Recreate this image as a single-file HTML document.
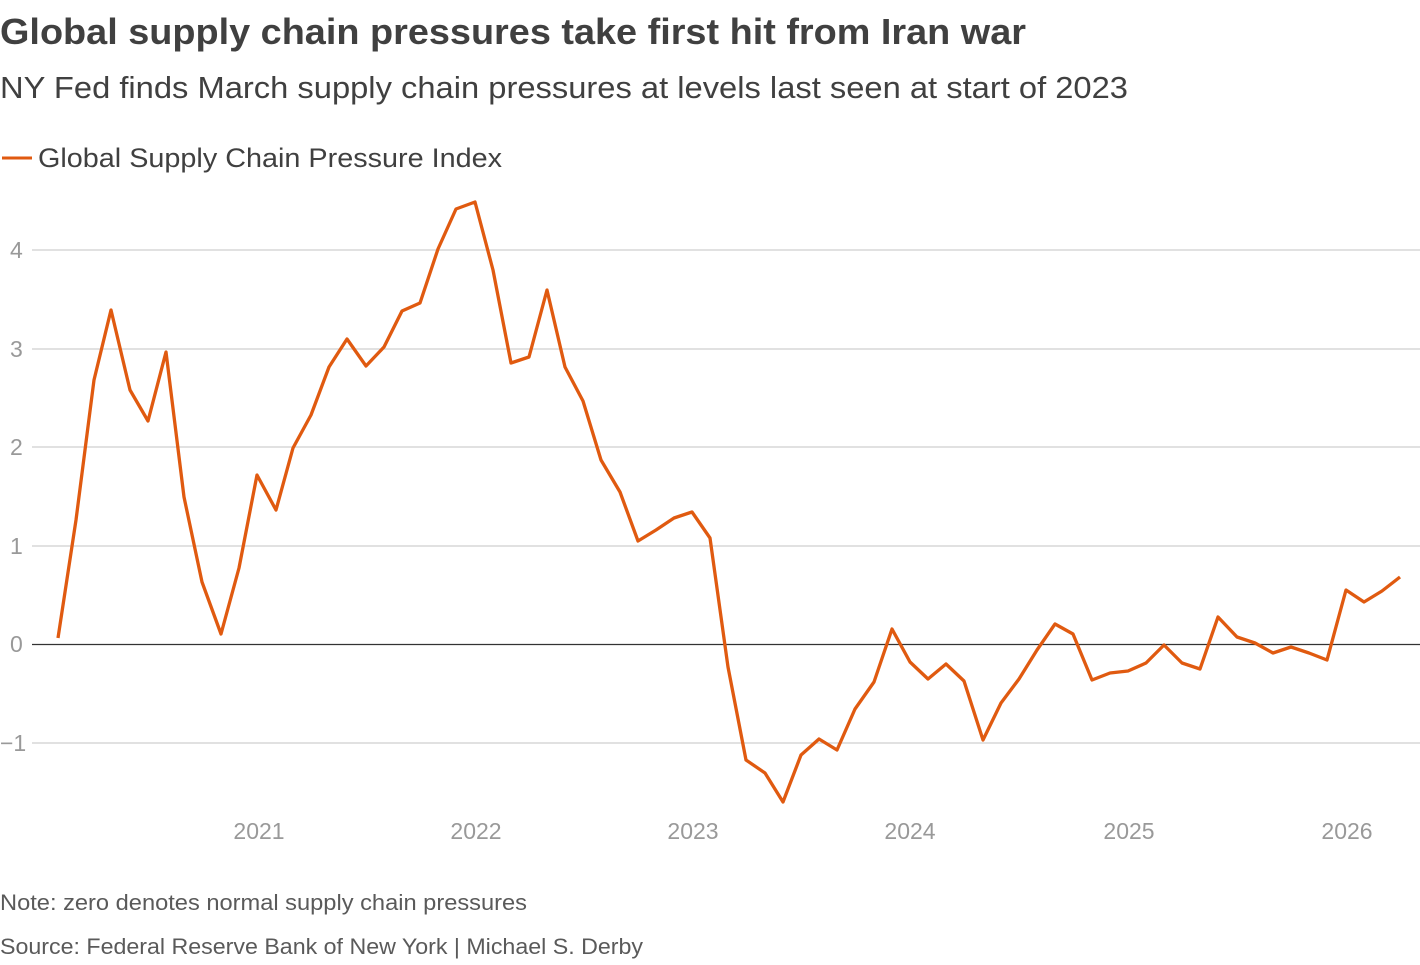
<!DOCTYPE html>
<html><head><meta charset="utf-8"><style>
body{margin:0;width:1420px;height:960px;background:#fff;font-family:"Liberation Sans",sans-serif;overflow:hidden}
</style></head><body>
<svg width="1420" height="960" xmlns="http://www.w3.org/2000/svg" font-family="Liberation Sans, sans-serif">
<text x="0" y="44" font-size="36" font-weight="bold" fill="#404040" textLength="1026" lengthAdjust="spacingAndGlyphs">Global supply chain pressures take first hit from Iran war</text>
<text x="0" y="98" font-size="31" fill="#404040" textLength="1128" lengthAdjust="spacingAndGlyphs">NY Fed finds March supply chain pressures at levels last seen at start of 2023</text>
<line x1="2" y1="158" x2="32" y2="158" stroke="#e05a10" stroke-width="3"/>
<text x="38" y="167" font-size="27" fill="#404040" textLength="464" lengthAdjust="spacingAndGlyphs">Global Supply Chain Pressure Index</text>
<g stroke="#cfcfcf" stroke-width="1.3">
<line x1="32" y1="250" x2="1420" y2="250"/><line x1="32" y1="349" x2="1420" y2="349"/>
<line x1="32" y1="447" x2="1420" y2="447"/><line x1="32" y1="546" x2="1420" y2="546"/>
<line x1="32" y1="743" x2="1420" y2="743"/></g>
<line x1="32" y1="644.5" x2="1420" y2="644.5" stroke="#333" stroke-width="1.3"/>
<g font-size="23" fill="#999">
<text x="10" y="258">4</text><text x="10" y="357">3</text><text x="10" y="455">2</text>
<text x="10" y="554">1</text><text x="10" y="652">0</text><text x="0" y="751">−1</text>
<g text-anchor="middle"><text x="259" y="839">2021</text><text x="476" y="839">2022</text><text x="693" y="839">2023</text><text x="910" y="839">2024</text><text x="1129" y="839">2025</text><text x="1347" y="839">2026</text></g>
</g>
<polyline fill="none" stroke="#e05a10" stroke-width="3.3" stroke-linejoin="round" points="58,638 76,520 94,380 111,310 130,390 148,421 166,352 184,497 202,582 221,634 239,568 257,475 276,510 293,448 311,415 329,367 347,339 366,366 384,347 402,311 420,303 438,249 456,209 475,202 493,270 511,363 529,357 547,290 565,367 583,401 601,460 620,492 638,541 656,530 674,518 692,512 710,538 728,667 746,760 765,773 783,802 801,755 819,739 837,750 855,709 874,682 892,629 910,662 928,679 946,664 964,681 983,740 1001,703 1019,679 1037,650 1055,624 1073,634 1092,680 1110,673 1128,671 1146,663 1164,645 1182,663 1200,669 1218,617 1237,637 1255,643 1273,653 1291,647 1309,653 1327,660 1346,590 1364,602 1382,591 1400,577"/>
<text x="0" y="910" font-size="22" fill="#5a5a5a" textLength="527" lengthAdjust="spacingAndGlyphs">Note: zero denotes normal supply chain pressures</text>
<text x="0" y="954" font-size="22" fill="#5a5a5a" textLength="643" lengthAdjust="spacingAndGlyphs">Source: Federal Reserve Bank of New York | Michael S. Derby</text>
</svg>
</body></html>
